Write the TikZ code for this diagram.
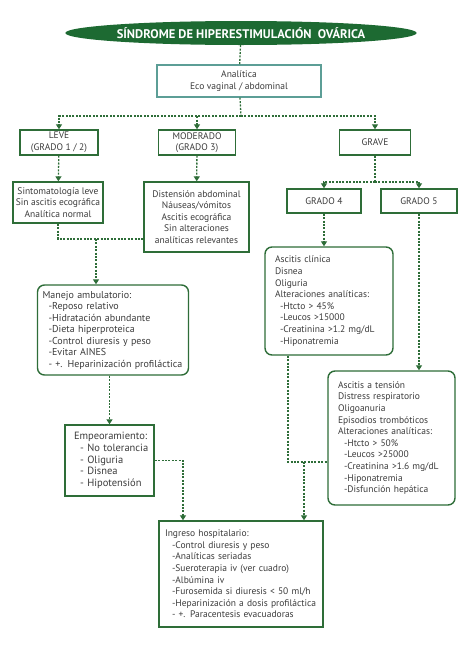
\documentclass[tikz,border=0pt]{standalone}
\usepackage{fontspec}
\setmainfont{PT Sans}
\usetikzlibrary{shapes.geometric,arrows.meta}
\definecolor{sohgreen}{HTML}{2E6D38}
\definecolor{sohdark}{HTML}{1D6A32}
\definecolor{sohteal}{HTML}{5C9E96}
\definecolor{sohtext}{HTML}{3C3C3C}
\begin{document}
\begin{tikzpicture}[x=1pt, y=-1pt,
    every node/.style={font=\fontsize{9.5}{11.6}\selectfont, text=sohtext},
    box/.style={draw=sohgreen, line width=1.4pt, fill=white, align=center, inner sep=2pt},
    roundbox/.style={box, rounded corners=7pt, align=left},
    link/.style={draw=sohgreen, line width=1.3pt, dash pattern=on 2pt off 1.4pt},
    arrow/.style={link, -{Triangle[length=5pt, width=6pt]}}]
    \useasboundingbox (0,0) rectangle (474,651);

    % Title
    \node[ellipse, fill=sohdark, inner sep=0pt, minimum width=302, minimum height=24,
          text=white, font=\fontsize{12.5}{14}\selectfont\bfseries] (title) at (241,33)
          {SÍNDROME DE HIPERESTIMULACIÓN\ \ OVÁRICA};

    % Analitica
    \node[box, draw=sohteal, minimum width=164, minimum height=32] (analitica) at (239,81) {Analítica\\Eco vaginal / abdominal};

    % Grades
    \node[box, minimum width=78, minimum height=25] (leve) at (59,142.5) {LEVE\\(GRADO 1 / 2)};
    \node[box, minimum width=77, minimum height=25] (moderado) at (197,142.5) {MODERADO\\(GRADO 3)};
    \node[box, minimum width=71, minimum height=25] (grave) at (375,142.5) {GRAVE};

    % Symptoms
    \node[box, minimum width=90, minimum height=41] (sinto) at (58,202.5) {Sintomatología leve\\Sin ascitis ecográfica\\Analítica normal};
    \node[box, minimum width=105, minimum height=70] (disten) at (196.5,217) {Distensión abdominal\\Náuseas/vómitos\\Ascitis ecográfica\\Sin alteraciones\\analíticas relevantes};

    % Grave sub-grades
    \node[box, minimum width=74, minimum height=24] (grado4) at (324,201) {GRADO 4};
    \node[box, minimum width=76, minimum height=24] (grado5) at (419,201) {GRADO 5};

    % Manejo ambulatorio
    \node[roundbox, text width=141, inner xsep=5pt, minimum height=90,
          font=\fontsize{10}{11.5}\selectfont] (manejo) at (113,330)
        {Manejo ambulatorio:\\
         \hspace*{6pt}-Reposo relativo\\
         \hspace*{6pt}-Hidratación abundante\\
         \hspace*{6pt}-Dieta hiperproteica\\
         \hspace*{6pt}-Control diuresis y peso\\
         \hspace*{6pt}-Evitar AINES\\
         \hspace*{6pt}- +. Heparinización profiláctica};

    % Grado 4 details
    \node[roundbox, text width=108, inner xsep=10pt, minimum height=108] (g4det) at (329,301)
        {Ascitis clínica\\Disnea\\Oliguria\\Alteraciones analíticas:\\
         \hspace*{5pt}-Htcto > 45\%\\
         \hspace*{5pt}-Leucos >15000\\
         \hspace*{5pt}-Creatinina >1.2 mg/dL\\
         \hspace*{5pt}-Hiponatremia};

    % Grado 5 details
    \node[roundbox, text width=107, inner xsep=10pt, minimum height=134] (g5det) at (391.5,438)
        {Ascitis a tensión\\Distress respiratorio\\Oligoanuria\\Episodios trombóticos\\Alteraciones analíticas:\\
         \hspace*{6pt}-Htcto > 50\%\\
         \hspace*{6pt}-Leucos >25000\\
         \hspace*{6pt}-Creatinina >1.6 mg/dL\\
         \hspace*{6pt}-Hiponatremia\\
         \hspace*{6pt}-Disfunción hepática};

    % Empeoramiento
    \node[box, align=left, text width=83, inner xsep=3pt, minimum height=71,
          font=\fontsize{10.5}{11.7}\selectfont] (empeora) at (109.5,460.5)
        {\hspace*{6pt}Empeoramiento:\\
         \hspace*{12pt}- No tolerancia\\
         \hspace*{12pt}- Oliguria\\
         \hspace*{12pt}- Disnea\\
         \hspace*{12pt}- Hipotensión};

    % Ingreso hospitalario
    \node[box, align=left, text width=156, inner xsep=4pt, minimum height=106] (ingreso) at (241,574)
        {\hspace*{2pt}Ingreso hospitalario:\\
         \hspace*{9pt}-Control diuresis y peso\\
         \hspace*{9pt}-Analíticas seriadas\\
         \hspace*{9pt}-Sueroterapia iv (ver cuadro)\\
         \hspace*{9pt}-Albúmina iv\\
         \hspace*{9pt}-Furosemida si diuresis < 50 ml/h\\
         \hspace*{9pt}-Heparinización a dosis profiláctica\\
         \hspace*{9pt}- +. Paracentesis evacuadoras};

    % Junctions
    \coordinate (split) at (241,116);
    \coordinate (split2) at (375,182);
    \coordinate (join1) at (96,239);
    \coordinate (join2) at (304,462);

    % Arrows
    \draw[link] (title) -- (analitica);
    \draw[link] (analitica) -- (split);
    \draw[arrow] (split) -| (leve);
    \draw[arrow] (split) -| (moderado);
    \draw[arrow] (split) -| (grave);
    \draw[arrow] (leve) -- (sinto);
    \draw[arrow] (moderado) -- (disten);
    \draw[link] (sinto) |- (join1) -- (join1 -| disten.west);
    \draw[arrow] (join1) -- (join1 |- manejo.north);
    \draw[arrow] (empeora.north |- manejo.south) -- (empeora);
    \draw[arrow] (empeora.east) -| ([xshift=-58pt]ingreso.north);
    \draw[link] (grave) -- (split2);
    \draw[arrow] (split2) -| (grado4);
    \draw[arrow] (split2) -| (grado5);
    \draw[arrow] (grado4) -- (grado4 |- g4det.north);
    \draw[arrow] (grado5) -- (grado5 |- g5det.north);
    \draw[link] ([xshift=-41pt]g4det.south) |- (join2) -- (join2 -| g5det.west);
    \draw[arrow] (join2) -- (join2 |- ingreso.north);
\end{tikzpicture}
\end{document}
